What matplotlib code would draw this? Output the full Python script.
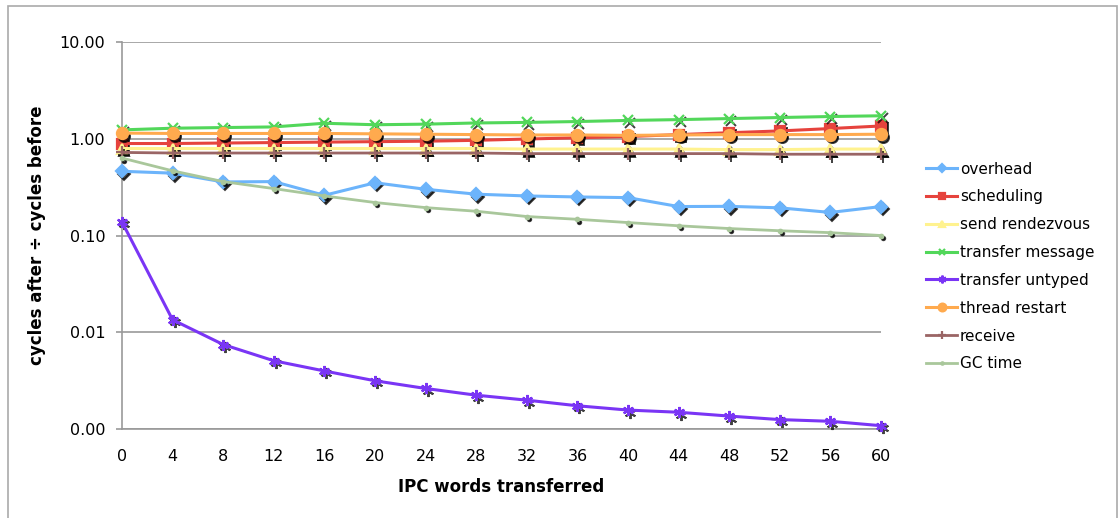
import matplotlib
matplotlib.use("Agg")
import matplotlib.pyplot as plt
from matplotlib.patches import Rectangle
from matplotlib.transforms import offset_copy

words = [0, 4, 8, 12, 16, 20, 24, 28, 32, 36, 40, 44, 48, 52, 56, 60]

overhead = [0.46, 0.44, 0.357, 0.36, 0.26, 0.35, 0.30, 0.267,
            0.256, 0.25, 0.246, 0.199, 0.20, 0.193, 0.173, 0.199]
scheduling = [0.89, 0.89, 0.90, 0.91, 0.92, 0.93, 0.94, 0.96,
              0.99, 1.02, 1.05, 1.10, 1.15, 1.20, 1.27, 1.35]
send_rendezvous = [0.79, 0.79, 0.79, 0.79, 0.79, 0.79, 0.79, 0.79,
                   0.78, 0.78, 0.78, 0.78, 0.77, 0.77, 0.78, 0.78]
transfer_message = [1.23, 1.28, 1.30, 1.32, 1.44, 1.39, 1.41, 1.45,
                    1.47, 1.50, 1.54, 1.57, 1.61, 1.65, 1.69, 1.72]
transfer_untyped = [0.138, 0.0135, 0.0075, 0.0051, 0.0040, 0.00317, 0.00264, 0.00225,
                    0.0020, 0.00175, 0.00158, 0.0015, 0.00137, 0.00126, 0.00121, 0.00109]
thread_restart = [1.14, 1.13, 1.13, 1.13, 1.13, 1.12, 1.11, 1.10,
                  1.09, 1.09, 1.08, 1.09, 1.10, 1.10, 1.10, 1.11]
receive = [0.72, 0.71, 0.71, 0.71, 0.71, 0.71, 0.71, 0.71,
           0.70, 0.70, 0.70, 0.70, 0.70, 0.69, 0.69, 0.69]
gc_time = [0.63, 0.465, 0.36, 0.305, 0.256, 0.219, 0.194, 0.178,
           0.157, 0.147, 0.136, 0.126, 0.118, 0.112, 0.107, 0.100]

# (label, values, colour, marker, markersize, linewidth)
series = [
    ("overhead", overhead, "#6cb4fb", "D", 6.5, 2.2),
    ("scheduling", scheduling, "#e6433d", "s", 7, 2.2),
    ("send rendezvous", send_rendezvous, "#fff28f", "^", 7, 2.2),
    ("transfer message", transfer_message, "#52d75a", "x", 7, 2.2),
    ("transfer untyped", transfer_untyped, "#7a35f5", (6, 2, 0), 8, 2.2),
    ("thread restart", thread_restart, "#ffaa4e", "o", 8, 2.2),
    ("receive", receive, "#9a6565", "+", 8, 2.0),
    ("GC time", gc_time, "#a9c79b", "o", 2.5, 2.0),
]

fig = plt.figure(figsize=(11.18, 5.18), dpi=100)
ax = fig.add_axes([0.1091, 0.1712, 0.6789, 0.7483])

shadow = offset_copy(ax.transData, fig=fig, x=1.5, y=-1.8, units="points")

for i, (label, vals, color, marker, ms, lw) in enumerate(series):
    z = 3 + i * 0.1
    ax.plot(words, vals, linestyle="none", marker=marker, markersize=ms,
            color="black", markeredgecolor="black", markeredgewidth=1.4,
            alpha=0.75, transform=shadow, clip_on=False, zorder=z)
    ax.plot(words, vals, color=color, marker=marker, markersize=ms,
            markeredgecolor=color, markeredgewidth=1.6, linewidth=lw,
            label=label, clip_on=False, zorder=z + 0.05)

ax.set_yscale("log")
ax.set_ylim(0.001, 10)
ax.set_xlim(0, 60)
yt = [0.001, 0.01, 0.1, 1, 10]
ax.set_yticks(yt)
ax.set_yticklabels(["%.2f" % v for v in yt])
ax.minorticks_off()
ax.set_xticks(words)

ax.grid(axis="y", color="#999999", linewidth=1.2)
ax.set_axisbelow(True)
for side in ["top", "right"]:
    ax.spines[side].set_visible(False)
for side in ["left", "bottom"]:
    ax.spines[side].set_color("#999999")
    ax.spines[side].set_linewidth(1.2)
ax.tick_params(axis="y", length=4, color="#999999", width=1.2, pad=8, labelsize=11.5)
ax.tick_params(axis="x", length=0, pad=14, labelsize=11.5)

ax.set_xlabel("IPC words transferred", fontsize=12, fontweight="bold", labelpad=10)
ax.set_ylabel("cycles after \u00f7 cycles before", fontsize=12, fontweight="bold", labelpad=10)

fig.legend(loc="upper left", bbox_to_anchor=(0.823, 0.70), frameon=False,
           fontsize=11, handlelength=2.0, handletextpad=0.2, labelspacing=0.84,
           markerscale=0.7, borderaxespad=0)

fig.patches.append(Rectangle((8 / 1118, -0.1), 1109 / 1118, 1.1 - 6 / 518,
                             transform=fig.transFigure, fill=False,
                             edgecolor="#aaaaaa", linewidth=1.2))

fig.savefig("out.png", dpi=100)
